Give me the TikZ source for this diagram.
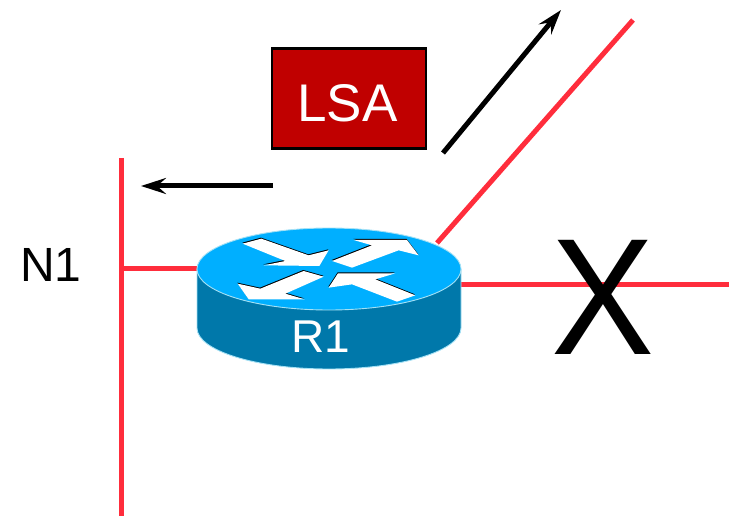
\documentclass[tikz,border=0pt]{standalone}
\usepackage{fontspec}
\setmainfont{Liberation Sans}
\usetikzlibrary{arrows.meta}
\definecolor{netred}{RGB}{255,45,60}
\definecolor{lsared}{RGB}{192,0,0}
\definecolor{rtop}{RGB}{0,175,255}
\definecolor{rside}{RGB}{0,120,170}
\definecolor{redge}{RGB}{165,225,245}
\tikzset{
  netline/.style={draw=netred,line width=5pt},
  flow/.style={draw=black,line width=5pt,-{Stealth[length=25pt,width=16pt,inset=9pt]}},
  lbl/.style={inner sep=0pt,anchor=base},
  arrowshape/.style={fill=white,draw=none},
  arrowshade/.style={fill=black,draw=none}
}
\newcommand{\RArrowA}{(172,83)--(228,68)--(370,118)--(430,103)--(402,150)--(235,148)--(300,135)--cycle}
\newcommand{\RArrowB}{(440,135)--(560,88)--(505,72)--(665,72)--(700,118)--(640,103)--(500,155)--cycle}
\newcommand{\RArrowC}{(415,182)--(300,233)--(358,250)--(190,250)--(157,203)--(225,218)--(355,165)--cycle}
\newcommand{\RArrowD}{(430,215)--(458,172)--(630,172)--(570,190)--(690,238)--(635,257)--(500,205)--cycle}
\begin{document}
\begin{tikzpicture}[x=1pt,y=-1pt]
\useasboundingbox (0,0) rectangle (729,516);
% named ends
\coordinate (n1top) at (121.5,158);
\coordinate (n1bot) at (121.5,516);
\coordinate (n1tap) at (121.5,268);
\coordinate (rleft) at (199,268);
\coordinate (rne) at (437,243);
\coordinate (farne) at (633,20);
\coordinate (reast) at (458,284);
\coordinate (fareast) at (729,284);
\coordinate (a1s) at (273,186);
\coordinate (a1e) at (141,186);
\coordinate (a2s) at (443,153);
\coordinate (a2e) at (561,10);
% lines
\draw[netline] (n1top) -- (n1bot);
\draw[netline] (n1tap) -- (rleft);
\draw[netline] (rne) -- (farne);
\draw[netline] (reast) -- (fareast);
% router body
\fill[rside,draw=redge,line width=0.9pt] (197,269) -- (197,328) arc[start angle=180,end angle=0,x radius=132,y radius=41] -- (461,269) -- cycle;
\fill[rtop,draw=redge,line width=0.9pt] (329,269) ellipse[x radius=132,y radius=41];
\begin{scope}[shift={(185,215)},x=0.3333pt,y=-0.3333pt]
\fill[arrowshade] \RArrowA;
\fill[arrowshade] \RArrowB;
\fill[arrowshade] \RArrowC;
\fill[arrowshade] \RArrowD;
\fill[arrowshape,shift={(1,3)}] \RArrowA;
\fill[arrowshape,shift={(1,3)}] \RArrowB;
\fill[arrowshape,shift={(1,3)}] \RArrowC;
\fill[arrowshape,shift={(1,3)}] \RArrowD;
\end{scope}
% X mark
\node[lbl,font=\fontsize{166pt}{166pt}\selectfont,xscale=0.93] (x) at (602.5,354) {X};
% labels
\node[lbl,font=\fontsize{46pt}{46pt}\selectfont,text=white] (r1) at (321,352) {R1};
\node[lbl,font=\fontsize{48pt}{48pt}\selectfont] (n1) at (51,281) {N1};
% LSA
\node[draw=black,fill=lsared,line width=2.5pt,minimum width=154pt,minimum height=100pt,inner sep=0pt,anchor=center] (lsa) at (349,98.5) {};
\node[lbl,font=\fontsize{53pt}{53pt}\selectfont,text=white] (lsat) at (347.5,121.5) {LSA};
% arrows
\draw[flow] (a1s) -- (a1e);
\draw[flow] (a2s) -- (a2e);
\end{tikzpicture}
\end{document}
